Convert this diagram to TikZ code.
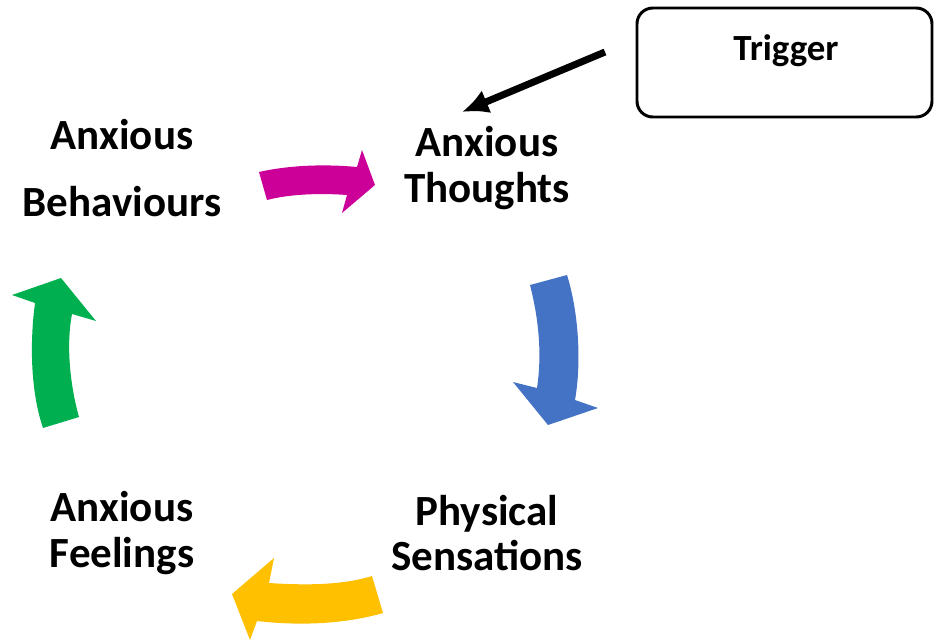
\documentclass[tikz,border=0pt]{standalone}
\usepackage{fontspec}
\setmainfont{Carlito}
\usetikzlibrary{arrows.meta}
\definecolor{cycmagenta}{RGB}{204,0,153}
\definecolor{cycblue}{RGB}{68,114,196}
\definecolor{cycyellow}{RGB}{255,192,0}
\definecolor{cycgreen}{RGB}{0,176,80}

\tikzset{
  stage/.style={align=center,font=\fontsize{24.5}{26}\selectfont\bfseries},
  trigbox/.style={draw,line width=1.7pt,rounded corners=9pt,minimum width=295*0.02cm,minimum height=109*0.02cm}
}

\begin{document}
\begin{tikzpicture}[x=0.02cm,y=-0.02cm]
  \useasboundingbox (0,0) rectangle (934,640);
  % stages of the cycle
  \node[stage] (thoughts) at (487,168) {Anxious\\Thoughts};
  \node[stage] (sensations) at (487,533) {Physical\\Sensations};
  \node[stage] (feelings) at (122,533) {Anxious\\Feelings};
  \node[stage] (behaviours) at (122,168) {Anxious\\[12pt]Behaviours};
  % trigger box
  \node[trigbox] (trigger) at (784.5,62.5) {};
  \node[font=\fontsize{21}{24}\selectfont\bfseries] (triglabel) at (786,51) {Trigger};
  \coordinate (trigout) at (605,52);
  \coordinate (thoughtsin) at (462,112);
  \draw[-{Latex[length=15pt,width=14pt]},line width=4pt] (trigout) -- (thoughtsin);
  % curved block arrows
  \fill[cycmagenta] (259,172) .. controls (290,165) and (325,164) .. (357,167)
    -- (362,150) -- (375,185) -- (342,213) -- (347,195)
    .. controls (320,193) and (290,194) .. (267,200) -- cycle;
  \fill[cycblue] (567,275) .. controls (578,310) and (582,360) .. (575,400)
    -- (598,408) -- (548,425) -- (513,382) -- (537,388)
    .. controls (542,355) and (539,320) .. (530,285) -- cycle;
  \fill[cycyellow] (372,576) .. controls (340,586) and (300,585) .. (269,583)
    -- (274,558) -- (232,594) -- (250,640) -- (257,621)
    .. controls (300,626) and (345,624) .. (383,613) -- cycle;
  \fill[cycgreen] (43,428) .. controls (30,390) and (30,340) .. (35,303)
    -- (12,295) -- (61,278) -- (96,321) -- (72,314)
    .. controls (66,345) and (70,385) .. (79,417) -- cycle;
\end{tikzpicture}
\end{document}
